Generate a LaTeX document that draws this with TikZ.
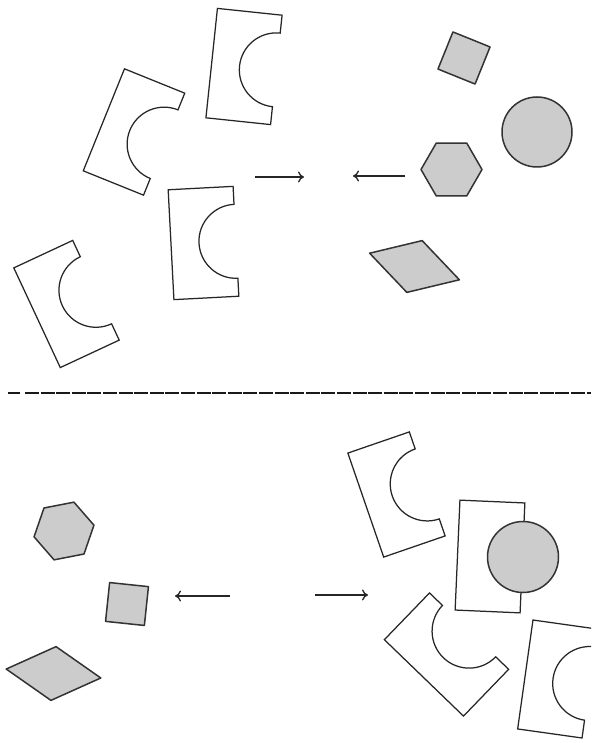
\documentclass[tikz,border=0pt]{standalone}
\usetikzlibrary{arrows.meta}
\begin{document}
\begin{tikzpicture}[x=1pt,y=-1pt,
  piece/.style={draw=black!85,line width=1.25pt,line join=miter,fill=white},
  shaded/.style={draw=black!80,line width=1.5pt,fill=black!20,line join=round},
  arr/.style={draw=black!85,line width=1.3pt,-{To[length=6pt,width=11pt]}},
  divider/.style={draw=black!90,line width=1.7pt,dash pattern=on 14pt off 1.6pt},
  cpiece/.pic={\draw[piece] (-32.5,-55) -- (32.5,-55) -- (32.5,-37)
      arc[start angle=90,end angle=270,radius=37pt] -- (32.5,55) -- (-32.5,55) -- cycle;},
  rectpiece/.pic={\draw[piece] (-32.5,-55) rectangle (32.5,55);}
]
\useasboundingbox (0,0) rectangle (591,743);
\fill[white] (0,0) rectangle (591,743);
\clip (0,0) rectangle (591,743);

% ---- top left panel: C pieces
\path (244,66.5) pic[rotate=-6] {cpiece};
\path (134,132) pic[rotate=-22] {cpiece};
\path (203.5,243) pic[rotate=3] {cpiece};
\path (66.5,304) pic[rotate=25] {cpiece};

% ---- top right panel: shaded shapes
\draw[shaded] (464,58) +(23:28.3pt) -- +(113:28.3pt) -- +(203:28.3pt) -- +(293:28.3pt) -- cycle;
\draw[shaded] (537,132) circle[radius=35];
\draw[shaded] (451.5,169.5) +(0:30.5pt) -- +(60:30.5pt) -- +(120:30.5pt) -- +(180:30.5pt) -- +(240:30.5pt) -- +(300:30.5pt) -- cycle;
\draw[shaded] (414.5,266.5) +(-16.5:46.8pt) -- +(73.5:27pt) -- +(163.5:46.8pt) -- +(253.5:27pt) -- cycle;

% ---- top arrows
\coordinate (ta1) at (255,177);
\coordinate (ta2) at (304,177);
\coordinate (tb1) at (405,176);
\coordinate (tb2) at (353,176);
\draw[arr] (ta1) -- (ta2);
\draw[arr] (tb1) -- (tb2);

% ---- divider
\coordinate (d0) at (8,393);
\coordinate (d1) at (20,393);
\coordinate (d2) at (25,393);
\coordinate (d3) at (591,393);
\draw[draw=black!90,line width=1.7pt] (d0) -- (d1);
\draw[divider] (d2) -- (d3);

% ---- bottom left panel
\draw[shaded] (64,531) +(11:30.5pt) -- +(71:30.5pt) -- +(131:30.5pt) -- +(191:30.5pt) -- +(251:30.5pt) -- +(311:30.5pt) -- cycle;
\draw[shaded] (127,604) +(39:27.6pt) -- +(129:27.6pt) -- +(219:27.6pt) -- +(309:27.6pt) -- cycle;
\draw[shaded] (53.5,673.5) +(-5.4:47.5pt) -- +(84.6:27pt) -- +(174.6:47.5pt) -- +(264.6:27pt) -- cycle;

% ---- bottom arrows
\coordinate (ba1) at (230,596);
\coordinate (ba2) at (175,596);
\coordinate (bb1) at (315,595);
\coordinate (bb2) at (368,595);
\draw[arr] (ba1) -- (ba2);
\draw[arr] (bb1) -- (bb2);

% ---- bottom right panel
\path (396.5,494.5) pic[rotate=19] {cpiece};
\path (490,556.5) pic[rotate=-2.5] {rectpiece};
\draw[shaded] (523,557) circle[radius=35.5];
\path (446.5,654.5) pic[rotate=46] {cpiece};
\path (557.5,679) pic[rotate=-8] {cpiece};
\end{tikzpicture}
\end{document}
